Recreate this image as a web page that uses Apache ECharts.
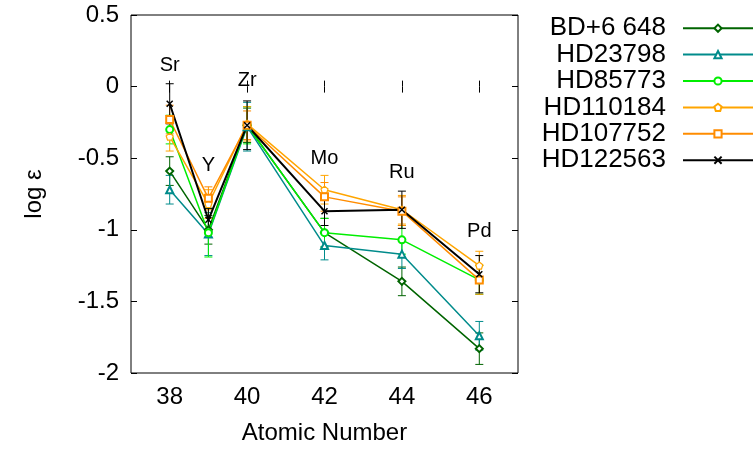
<!DOCTYPE html>
<html>
<head>
<meta charset="utf-8">
<script src="https://cdn.jsdelivr.net/npm/echarts@6/dist/echarts.min.js"></script>
<style>
  html, body { margin: 0; padding: 0; background: #fff; }
  #chart { width: 755px; height: 457px; }
</style>
</head>
<body>
<div id="chart"></div>
<script>
// ---- data ----
const elements = ['Sr', 'Y', 'Zr', 'Mo', 'Ru', 'Pd'];
const atomicNumbers = [38, 39, 40, 42, 44, 46];
const labelValues = [0.15, -0.55, 0.04, -0.50, -0.60, -1.01];
const xTicks = [38, 40, 42, 44, 46];
const yTicks = [0.5, 0, -0.5, -1, -1.5, -2];

const starNames = ['BD+6 648', 'HD23798', 'HD85773', 'HD110184', 'HD107752', 'HD122563'];
const bd6648   = [-0.59, -1.00, -0.27, -1.02, -1.36, -1.83];
const hd23798  = [-0.72, -1.03, -0.28, -1.11, -1.17, -1.74];
const hd85773  = [-0.30, -1.02, -0.27, -1.02, -1.07, -1.35];
const hd110184 = [-0.35, -0.82, -0.26, -0.72, -0.86, -1.25];
const hd107752 = [-0.23, -0.78, -0.27, -0.77, -0.87, -1.35];
const hd122563 = [-0.12, -0.93, -0.27, -0.87, -0.86, -1.31];

const errBd6648   = [0.10, 0.10, 0.12, 0.10, 0.10, 0.11];
const errHd23798  = [0.10, 0.15, 0.17, 0.10, 0.10, 0.10];
const errHd85773  = [0.10, 0.17, 0.13, 0.10, 0.10, 0.10];
const errHd110184 = [0.10, 0.10, 0.12, 0.10, 0.10, 0.10];
const errHd107752 = [0.10, 0.08, 0.10, 0.10, 0.10, 0.10];
const errHd122563 = [0.14, 0.08, 0.17, 0.10, 0.13, 0.13];

// ---- styles ----
const FONT = 'Liberation Sans, Arial, sans-serif';
const seriesDefs = [
  { name: starNames[0], values: bd6648,   errs: errBd6648,   color: '#006400', symbol: 'emptyDiamond', size: 7 },
  { name: starNames[1], values: hd23798,  errs: errHd23798,  color: '#008b8b', symbol: 'emptyTriangle', size: 7 },
  { name: starNames[2], values: hd85773,  errs: errHd85773,  color: '#00ee00', symbol: 'emptyCircle', size: 7 },
  { name: starNames[3], values: hd110184, errs: errHd110184, color: '#ffa500', symbol: 'path://M0,-10L9.51,-3.09L5.88,8.09L-5.88,8.09L-9.51,-3.09Z', size: 7, open: true },
  { name: starNames[4], values: hd107752, errs: errHd107752, color: '#ff8c00', symbol: 'emptyRect', size: 7 },
  { name: starNames[5], values: hd122563, errs: errHd122563, color: '#000000', symbol: 'path://M-5,-5L5,5M5,-5L-5,5', size: 6, cross: true, width: 2 }
];

function errorRenderer(color) {
  return function (params, api) {
    const x = api.value(0), lo = api.value(1), hi = api.value(2);
    const p1 = api.coord([x, hi]);
    const p2 = api.coord([x, lo]);
    const cap = 4;
    const st = { stroke: color, lineWidth: 1 };
    return {
      type: 'group',
      children: [
        { type: 'line', shape: { x1: p1[0], y1: p1[1], x2: p2[0], y2: p2[1] }, style: st },
        { type: 'line', shape: { x1: p1[0] - cap, y1: p1[1], x2: p1[0] + cap, y2: p1[1] }, style: st },
        { type: 'line', shape: { x1: p2[0] - cap, y1: p2[1], x2: p2[0] + cap, y2: p2[1] }, style: st }
      ]
    };
  };
}

const series = [];
seriesDefs.forEach(function (d) {
  let itemStyle;
  if (d.cross) itemStyle = { color: d.color, borderColor: d.color, borderWidth: 1.5 };
  else if (d.open) itemStyle = { color: '#ffffff', borderColor: d.color, borderWidth: 1.2 };
  else itemStyle = { color: d.color, borderWidth: 1.2 };
  series.push({
    name: d.name,
    type: 'line',
    data: atomicNumbers.map(function (x, i) { return [x, d.values[i]]; }),
    symbol: d.symbol,
    symbolSize: d.size,
    showAllSymbol: true,
    lineStyle: { color: d.color, width: d.width || 1.5 },
    itemStyle: itemStyle,
    emphasis: { disabled: true },
    z: 3,
    animation: false
  });
});
seriesDefs.forEach(function (d) {
  series.push({
    name: d.name,
    type: 'custom',
    renderItem: errorRenderer(d.color),
    data: atomicNumbers.map(function (x, i) { return [x, d.values[i] - d.errs[i], d.values[i] + d.errs[i]]; }),
    itemStyle: { color: d.color },
    z: 2,
    animation: false,
    silent: true
  });
});
series.push({
  name: 'elements',
  type: 'scatter',
  data: atomicNumbers.map(function (x, i) { return { value: [x, labelValues[i]], name: elements[i] }; }),
  symbolSize: 1,
  itemStyle: { opacity: 0 },
  label: {
    show: true,
    position: 'inside',
    formatter: '{b}',
    color: '#000000',
    opacity: 1,
    fontSize: 20,
    fontFamily: FONT
  },
  emphasis: { disabled: true },
  z: 10,
  silent: true,
  animation: false
});

const axisTickCommon = { show: true, inside: true, length: 6, lineStyle: { color: '#000', width: 1 } };

const option = {
  backgroundColor: '#fff',
  animation: false,
  grid: { left: 131, right: 237, top: 15, bottom: 84, show: true, borderColor: '#000', borderWidth: 1, backgroundColor: 'transparent' },
  legend: {
    data: starNames,
    orient: 'vertical',
    align: 'right',
    right: 1,
    top: 15,
    padding: 0,
    itemGap: 0,
    itemWidth: 70,
    itemHeight: 9,
    textStyle: { fontSize: 26, fontFamily: FONT, color: '#000', lineHeight: 26.4, padding: [0, 12, 0, 0] },
    selectedMode: false
  },
  xAxis: [
    {
      type: 'value', min: 37, max: 47, position: 'bottom',
      name: 'Atomic Number', nameLocation: 'middle', nameGap: 48,
      nameTextStyle: { fontSize: 24, fontFamily: FONT, color: '#000' },
      axisLine: { show: false },
      axisTick: Object.assign({ customValues: xTicks }, axisTickCommon),
      axisLabel: { customValues: xTicks, fontSize: 24, fontFamily: FONT, color: '#000', margin: 12 },
      splitLine: { show: false }
    },
    {
      type: 'value', min: 37, max: 47, position: 'top',
      axisLine: { show: false },
      axisTick: Object.assign({ customValues: xTicks }, axisTickCommon),
      axisLabel: { show: false },
      splitLine: { show: false }
    }
  ],
  yAxis: [
    {
      type: 'value', min: -2, max: 0.5, interval: 0.5, position: 'left',
      name: 'log ε', nameLocation: 'middle', nameGap: 85,
      nameTextStyle: { fontSize: 24, fontFamily: FONT, color: '#000' },
      axisLine: { show: false },
      axisTick: axisTickCommon,
      axisLabel: { fontSize: 24, fontFamily: FONT, color: '#000', margin: 12,
        formatter: function (v) { return String(Math.round(v * 10) / 10); } },
      splitLine: { show: false }
    },
    {
      type: 'value', min: -2, max: 0.5, interval: 0.5, position: 'right',
      axisLine: { show: false },
      axisTick: axisTickCommon,
      axisLabel: { show: false },
      splitLine: { show: false }
    }
  ],
  series: series
};

const chart = echarts.init(document.getElementById('chart'), null, { renderer: 'canvas' });
chart.setOption(option);
</script>
</body>
</html>
